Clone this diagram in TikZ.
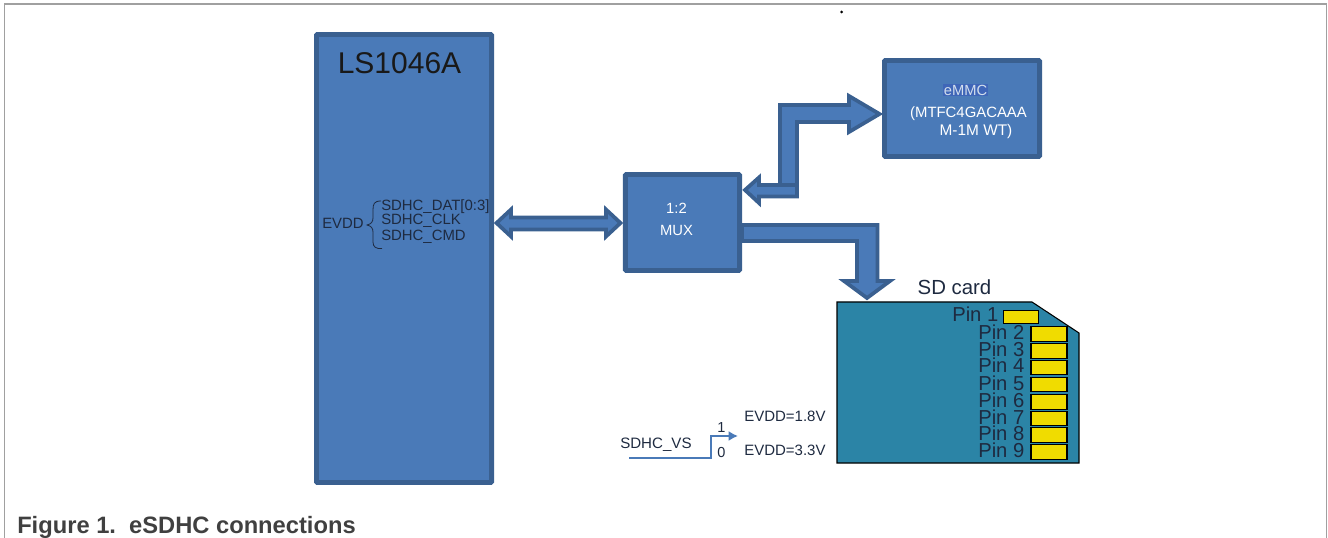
\documentclass[tikz,border=0pt]{standalone}
\usepackage{fontspec}
\setmainfont{Liberation Sans}
\usetikzlibrary{calc,arrows.meta}
\definecolor{blockfill}{HTML}{4A7AB8}
\definecolor{blockedge}{HTML}{3A6090}
\definecolor{cardfill}{HTML}{2B84A6}
\definecolor{pinfill}{HTML}{F0DC00}
\definecolor{inktext}{HTML}{1E2A40}
\definecolor{framegray}{HTML}{A0A0A0}
\definecolor{hilite}{HTML}{3F66B8}
\newcommand{\fs}[1]{\fontsize{\fpeval{#1*0.75}}{\fpeval{#1*0.75}}\selectfont}
\tikzset{
  x=0.75pt,y=-0.75pt,
  block/.style={draw=blockedge,fill=blockfill,line width=3.6pt,inner sep=0pt,rounded corners=0.6pt},
  blockarrow/.style={draw=blockedge,fill=blockfill,line width=2.8pt,line join=miter},
  darklabel/.style={text=inktext,inner sep=0pt,anchor=base west},
  whitelabel/.style={text=white,inner sep=0pt},
  pad/.style={draw=black,fill=pinfill,line width=0.8pt,minimum width=27pt,minimum height=11pt,inner sep=0pt},
  pinlabel/.style={text=inktext,inner sep=0pt,anchor=base west,font=\fs{20.2}},
}
\begin{document}
\begin{tikzpicture}
\useasboundingbox (0,0) rectangle (1328,538);
\draw[framegray,line width=0.9pt] (4.5,538) -- (4.5,4) -- (1326.5,4) -- (1326.5,538);
\fill[black] (841.5,12) circle (1.5);
% blocks
\node[block,minimum width=131.4pt,minimum height=336pt] (soc) at (404,258.5) {};
\node[block,minimum width=85.7pt,minimum height=72pt] (mux) at (682.5,222.5) {};
\node[block,minimum width=116.4pt,minimum height=72pt] (emmc) at (962,108.5) {};
\node[text=black!90,inner sep=0pt,font=\fs{30}] (socname) at (399.5,63) {LS1046A};
\node[whitelabel,font=\fs{14.8}] (muxtop) at (676.5,208) {1:2};
\node[whitelabel,font=\fs{14.8}] (muxname) at (676.5,230) {MUX};
\node[fill=hilite,text=white!75!blockfill,inner sep=0.5pt,font=\fs{14.7}] (emmcname) at (965.5,90) {eMMC};
\node[whitelabel,font=\fs{14.9}] (emmcpn1) at (968.5,114) {(MTFC4GACAAA};
\node[whitelabel,font=\fs{15.4}] (emmcpn2) at (976,132) {M-1M WT)};
% signals
\node[darklabel,font=\fs{14.9}] (evdd) at (322,229) {EVDD};
\node[darklabel,font=\fs{14.9}] (dat) at (381,211) {SDHC\_DAT[0:3]};
\node[darklabel,font=\fs{14.9}] (clk) at (381,225) {SDHC\_CLK};
\node[darklabel,font=\fs{14.9}] (cmd) at (381,241) {SDHC\_CMD};
\draw[inktext,line width=0.6pt] (381,201) .. controls (374,201) and (373,204) .. (373,210) -- (373,218) .. controls (373,222) and (371,224) .. (367,225) .. controls (371,226) and (373,228) .. (373,232) -- (373,242) .. controls (373,247) and (376,249) .. (382,248.5);
% coordinates on the node edges
\coordinate (socport) at (496.5,223);
\coordinate (muxleft) at (620.5,223);
\coordinate (muxupper) at (745,190);
\coordinate (muxlowera) at (mux.east |- 0,225);
\coordinate (muxlowerb) at (mux.east |- 0,241);
\coordinate (emmcport) at (879.5,114);
% block arrows
\draw[blockarrow] (socport) -- (511,209.5) -- (511,217.5) -- (606,217.5) -- (606,209.5) -- (muxleft) -- (606,236.5) -- (606,229.5) -- (511,229.5) -- (511,236.5) -- cycle;
\draw[blockarrow] (780,190) -- (780,105) -- (849,105) -- (849,96) -- (emmcport) -- (849,132) -- (849,122) -- (797,122) -- (797,190);
\draw[blockarrow] (muxupper) -- (759,177.5) -- (759,185) -- (797,185) -- (797,196.5) -- (759,196.5) -- (759,203) -- cycle;
\draw[blockarrow] (muxlowera) -- (877.5,225) -- (877.5,281) -- (890,281) -- (867,298) -- (844,281) -- (857,281) -- (857,241) -- (muxlowerb) -- cycle;
% SD card
\node[text=inktext,inner sep=0pt,font=\fs{20.4}] (sdname) at (954.5,287) {SD card};
\draw[black,fill=cardfill,line width=0.8pt] (837,302) -- (1032,302) -- (1079,333) -- (1079,463) -- (837,463) -- cycle;
\node[pad,minimum width=26pt,minimum height=9.5pt] (p1) at (1021,317) {};
\foreach \n/\yy in {2/334,3/351,4/367.5,5/384.5,6/402,7/418.5,8/435,9/452}{
  \node[pad] (p\n) at (1049,\yy) {};
  \node[pinlabel] (l\n) at (978,\yy+5.5) {Pin \n};
}
\node[pinlabel] (l1) at (952,321) {Pin 1};
% voltage select
\node[darklabel,font=\fs{15.1}] (vs) at (620,448) {SDHC\_VS};
\node[darklabel,font=\fs{14.5}] (one) at (717,432) {1};
\node[darklabel,font=\fs{14.5}] (zero) at (717,457) {0};
\node[darklabel,font=\fs{15}] (v18) at (744,421) {EVDD=1.8V};
\node[darklabel,font=\fs{15}] (v33) at (744,455) {EVDD=3.3V};
\coordinate (vsstart) at (629,458);
\coordinate (vsend) at (738,436);
\draw[blockfill,line width=1.5pt,-{Latex[length=7pt,width=7.5pt]}] (vsstart) -- (711,458) -- (711,436) -- (vsend);
% caption
\node[text=black!75,inner sep=0pt,anchor=base west,font=\bfseries\fs{23.7}] (caption) at (17,533) {Figure 1.\ \ eSDHC connections};
\end{tikzpicture}
\end{document}
